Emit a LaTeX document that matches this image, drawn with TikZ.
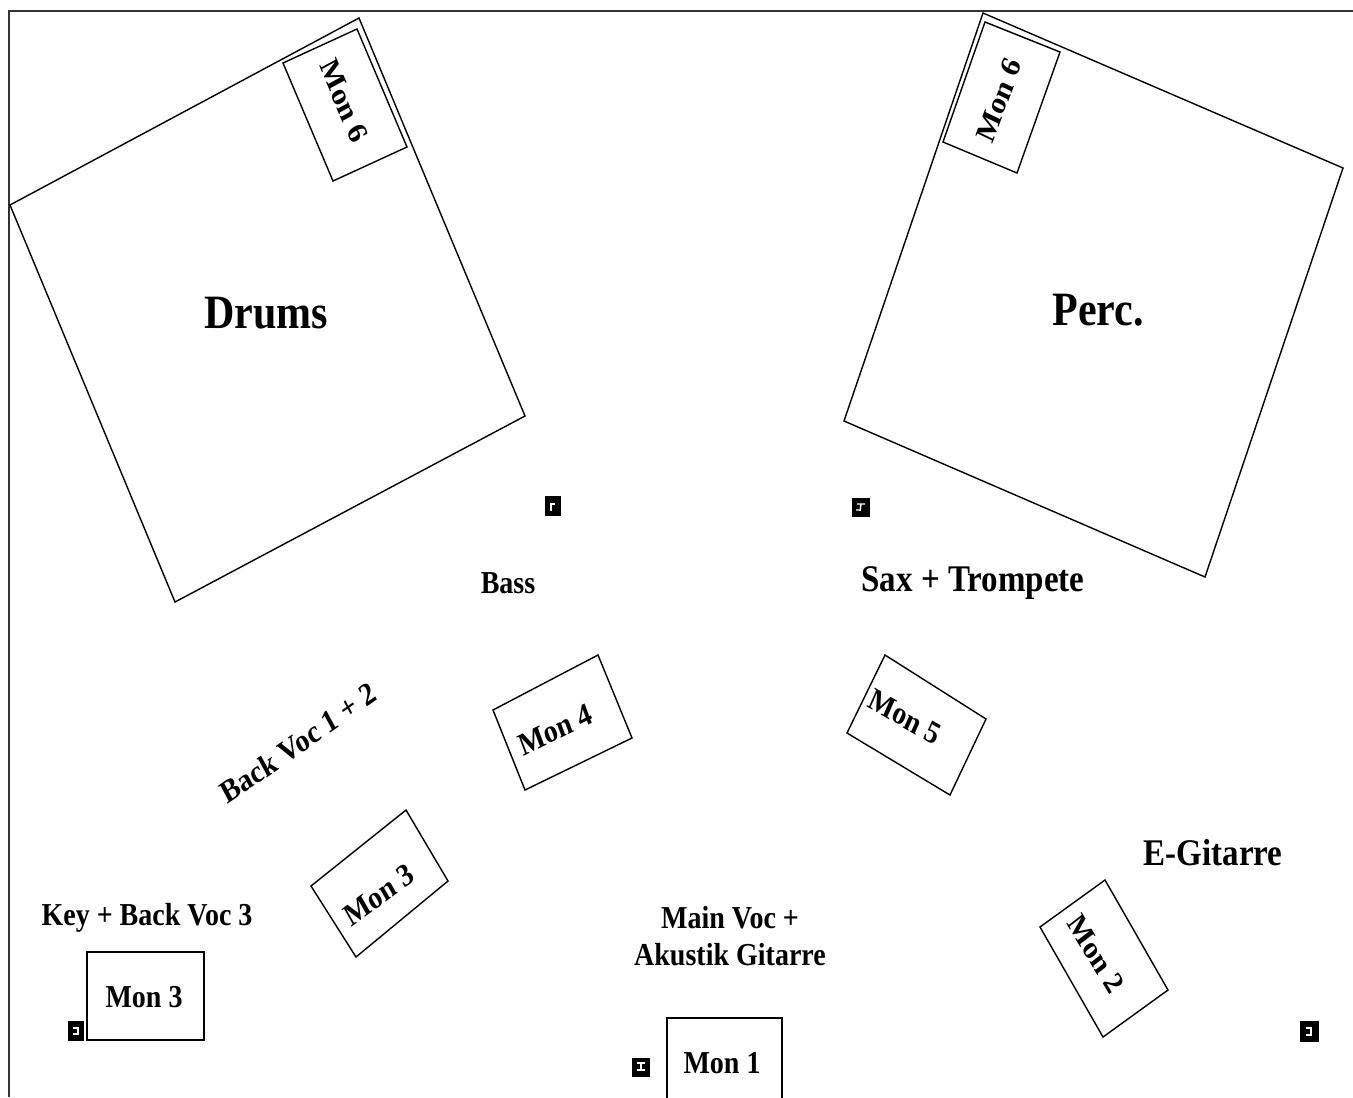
\documentclass[tikz,border=0pt]{standalone}
\usepackage{fontspec}
\setmainfont{Liberation Serif}
\begin{document}
\begin{tikzpicture}[x=1pt, y={(0pt,-0.877193pt)}, yscale=1.14,
  every node/.style={transform shape},
  ln/.style={line width=1.4pt, line join=miter},
  frame/.style={line width=1.7pt, draw=black!80},
  small/.style={font=\fontsize{28}{32.5}\selectfont\bfseries, inner sep=0pt, align=center},
  medium/.style={font=\fontsize{33}{38}\selectfont\bfseries, inner sep=0pt},
  large/.style={font=\fontsize{42}{48}\selectfont\bfseries, inner sep=0pt},
  spk/.style={fill=black},
  whitemark/.style={draw=white, line width=1.4pt}]
\useasboundingbox (0,0) rectangle (1353,1097);
% frame
\draw[frame] (9,1097) -- (9,11) -- (1353,11);
% drum riser and its monitor
\draw[ln] (359,18) -- (525,416) -- (175,602) -- (10,205) -- cycle;
\draw[ln] (283,63) -- (357,29) -- (407,147) -- (333,181) -- cycle;
% percussion riser and its monitor
\draw[ln] (983,13) -- (1343,168) -- (1205,577) -- (844,421) -- cycle;
\draw[ln] (985,22) -- (1060,52) -- (1017,173) -- (943,142) -- cycle;
% monitors
\draw[ln] (493,710) -- (598,655) -- (632,738) -- (525,790) -- cycle;
\draw[ln] (885,655) -- (986,719) -- (950,795) -- (847,733) -- cycle;
\draw[ln] (1040,927) -- (1105,880) -- (1168,990) -- (1103,1037) -- cycle;
\draw[ln] (311,886) -- (406,810) -- (448,881) -- (356,957) -- cycle;
\draw[ln] (87,952) rectangle (204,1040);
\draw[ln] (667,1100) -- (667,1018) -- (782,1018) -- (782,1100);
% small black blocks
\fill[spk] (545,496) rectangle (561,516);
\draw[whitemark] (551,511) -- (551,504) -- (555,504);
\fill[spk] (852,498) rectangle (870,517);
\draw[whitemark] (857,504) -- (865,504) (861,504) -- (860,511) (856,510) -- (860,510);
\fill[spk] (68,1021) rectangle (84,1041);
\draw[whitemark] (73,1028) -- (78,1028) -- (78,1034) -- (73,1034);
\fill[spk] (632,1058) rectangle (650,1077);
\draw[whitemark] (637,1063) -- (645,1063) (637,1070) -- (645,1070) (641,1063) -- (641,1070);
\fill[spk] (1300,1021) rectangle (1319,1042);
\draw[whitemark] (1306,1028) -- (1311,1028) -- (1311,1035) -- (1306,1035);
% labels
\node[large, anchor=base] (drums) at (266,328) {Drums};
\node[large, anchor=base] (perc) at (1098,325) {Perc.};
\node[small, anchor=base] (bass) at (508,593) {Bass};
\node[medium, anchor=base] (sax) at (973,591) {Sax + Trompete};
\node[medium, anchor=base] (egit) at (1213,865) {E-Gitarre};
\node[small, anchor=base] (key) at (147,925) {Key + Back Voc 3};
\node[small] (mainvoc) at (730,936) {Main Voc +\\Akustik Gitarre};
\node[small, rotate=31.5] (backvoc) at (298,743) {Back Voc 1 + 2};
% monitor labels
\node[small, rotate=23] (mon4) at (555,730) {Mon 4};
\node[small, rotate=-27] (mon5) at (905,717) {Mon 5};
\node[small, rotate=-56] (mon2) at (1096,954) {Mon 2};
\node[small, rotate=33] (mon3b) at (379,895) {Mon 3};
\node[small, anchor=base] (mon3a) at (144,1007) {Mon 3};
\node[small, anchor=base] (mon1) at (722,1073) {Mon 1};
\node[small, rotate=-64.5] (mon6a) at (344,101) {Mon 6};
\node[small, rotate=67] (mon6b) at (999,100) {Mon 6};
\end{tikzpicture}
\end{document}
